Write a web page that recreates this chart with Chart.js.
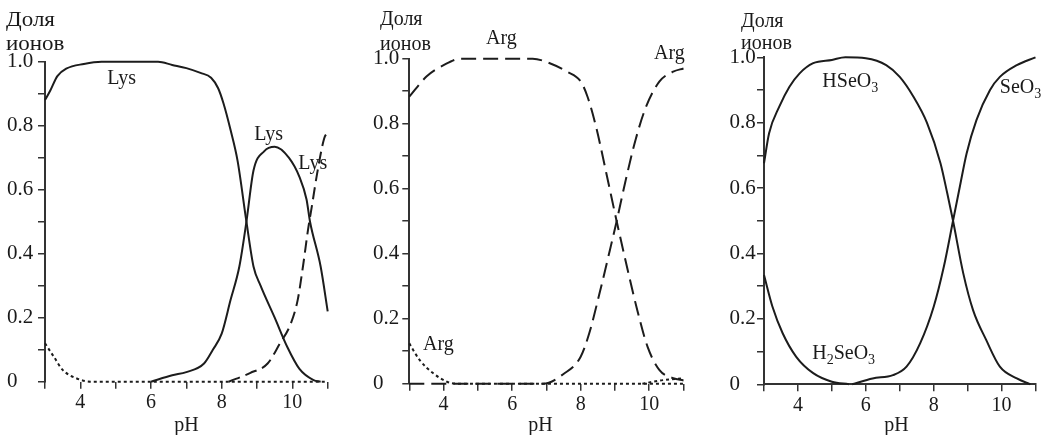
<!DOCTYPE html>
<html><head><meta charset="utf-8">
<script src="https://cdn.jsdelivr.net/npm/chart.js@4/dist/chart.umd.min.js"></script>
<style>
html,body{margin:0;padding:0;background:#fff;width:1043px;height:435px;overflow:hidden}
canvas{position:absolute;top:0}
</style></head><body>
<canvas id="c1" width="345" height="435" style="left:0px"></canvas>
<canvas id="c2" width="350" height="435" style="left:345px"></canvas>
<canvas id="c3" width="348" height="435" style="left:695px"></canvas>
<script>
// ---------- tick labels ----------
const xTickValues = [4, 6, 8, 10];
const xTickLabels = ['4', '6', '8', '10'];
const yTickLabels = ['0', '0.2', '0.4', '0.6', '0.8', '1.0'];
const yTitleLines = ['Доля', 'ионов'];
const xTitle = 'pH';

// ---------- panel 1 : Lys ----------
const lysCationPH   = [3, 3.15, 3.35, 3.6, 4.1, 4.6, 5.5, 6.2, 6.6, 7.0, 7.4, 7.7, 7.9, 8.05, 8.25, 8.45, 8.7, 8.9, 9.1, 9.5, 9.85, 10.2, 10.6, 10.8];
const lysCationFrac = [0.88, 0.91, 0.955, 0.978, 0.993, 1.0, 1.0, 1.0, 0.99, 0.98, 0.965, 0.95, 0.917, 0.87, 0.787, 0.69, 0.5, 0.36, 0.30, 0.2, 0.11, 0.04, 0.005, 0];
const lysZwitterPH   = [6.0, 6.6, 7.0, 7.5, 7.75, 8.0, 8.25, 8.5, 8.7, 8.9, 9.2, 9.5, 9.9, 10.2, 10.4, 10.5, 10.8, 11];
const lysZwitterFrac = [0, 0.02, 0.03, 0.057, 0.1, 0.15, 0.255, 0.36, 0.5, 0.66, 0.72, 0.734, 0.70, 0.64, 0.57, 0.5, 0.36, 0.22];
const lysAnionPH   = [8.2, 8.8, 9.3, 9.65, 9.95, 10.15, 10.3, 10.45, 10.55, 10.7, 10.9, 11];
const lysAnionFrac = [0, 0.027, 0.057, 0.12, 0.18, 0.255, 0.36, 0.48, 0.547, 0.65, 0.76, 0.78];
const lysDicationPH   = [3, 3.25, 3.5, 3.9, 4.3, 6, 8, 11];
const lysDicationFrac = [0.12, 0.078, 0.037, 0.01, 0, 0, 0, 0];

// ---------- panel 2 : Arg ----------
const argCationPH   = [3, 3.5, 4.0, 4.5, 6.6, 7.1, 7.6, 8.0, 8.2, 8.45, 8.75, 9.05, 9.35, 9.65, 9.95, 10.3, 10.7, 11];
const argCationFrac = [0.883, 0.945, 0.98, 1.0, 1.0, 0.986, 0.96, 0.93, 0.883, 0.79, 0.647, 0.5, 0.36, 0.227, 0.114, 0.042, 0.017, 0.01];
const argZwitterPH   = [3, 6.9, 7.5, 8.0, 8.25, 8.55, 8.85, 9.05, 9.3, 9.6, 9.9, 10.3, 10.7, 11];
const argZwitterFrac = [0, 0, 0.03, 0.083, 0.155, 0.278, 0.41, 0.5, 0.62, 0.75, 0.85, 0.93, 0.96, 0.97];
const argDicationPH   = [3, 3.3, 3.7, 4.1, 4.4, 7, 9, 11];
const argDicationFrac = [0.124, 0.073, 0.032, 0.006, 0, 0, 0, 0];
const argAnionPH   = [9.8, 10.4, 11];
const argAnionFrac = [0, 0.011, 0.017];

// ---------- panel 3 : selenite ----------
const hseo3PH   = [3, 3.15, 3.45, 3.75, 4.05, 4.45, 5.0, 5.4, 6.0, 6.6, 7.0, 7.4, 7.8, 8.2, 8.4, 8.57, 8.87, 9.16, 9.55, 9.95, 10.45, 10.85];
const hseo3Frac = [0.676, 0.768, 0.849, 0.91, 0.951, 0.982, 0.992, 1.0, 0.997, 0.976, 0.94, 0.88, 0.8, 0.676, 0.584, 0.5, 0.34, 0.227, 0.135, 0.054, 0.018, 0];
const h2seo3PH   = [3, 3.25, 3.55, 3.95, 4.45, 5.0, 5.5];
const h2seo3Frac = [0.334, 0.237, 0.156, 0.084, 0.034, 0.008, 0];
const seo3PH   = [5.6, 6.2, 6.8, 7.2, 7.6, 8.0, 8.3, 8.57, 8.77, 8.97, 9.26, 9.66, 9.95, 10.45, 11];
const seo3Frac = [0, 0.018, 0.028, 0.054, 0.125, 0.237, 0.36, 0.5, 0.604, 0.706, 0.808, 0.9, 0.94, 0.976, 1.0];

// ---------- helpers ----------
const FONT = "'Liberation Serif', 'Times New Roman', serif";
Chart.defaults.font.family = FONT;
const INK = '#1c1c1c';
const AXIS = '#333';
const pts = (xs, ys) => xs.map((x, i) => ({x: x, y: ys[i]}));
const solid = [];
function ds(xs, ys, dash) {
  return {data: pts(xs, ys), borderColor: INK, borderWidth: 2, borderDash: dash,
    pointRadius: 0, fill: false, cubicInterpolationMode: 'monotone', clip: false,
    borderCapStyle: 'butt'};
}

const textPlugin = {
  id: 'panelText',
  afterDraw(chart, args, o) {
    const ctx = chart.ctx, xs = chart.scales.x, ys = chart.scales.y;
    ctx.save();
    ctx.fillStyle = '#1a1a1a';
    // y title
    ctx.font = '20px ' + FONT;
    ctx.textBaseline = 'alphabetic';
    ctx.textAlign = 'left';
    yTitleLines.forEach((t, i) => {
      ctx.save();
      ctx.translate(o.titleLeft, o.titleBase[i]);
      ctx.scale(o.titleScaleX, 1);
      ctx.fillText(t, 0, 0);
      ctx.restore();
    });
    // x title
    ctx.textAlign = 'center';
    ctx.fillText(xTitle, xs.getPixelForValue(o.xTitleAt), 431);
    // species labels
    ctx.textAlign = 'left';
    ctx.textBaseline = 'middle';
    o.labels.forEach(l => {
      let x = xs.getPixelForValue(l.pH);
      const y = ys.getPixelForValue(l.v);
      l.parts.forEach(p => {
        const sub = typeof p !== 'string';
        const t = sub ? p.sub : p;
        ctx.font = (sub ? '14px ' : '20px ') + FONT;
        ctx.fillText(t, x, sub ? y + 6 : y);
        x += ctx.measureText(t).width;
      });
    });
    ctx.restore();
  }
};

function makeChart(id, datasets, g) {
  const yLabel = v => { const k = Math.round(v * 10); return k % 2 ? '' : yTickLabels[k / 2]; };
  const xLabel = v => { const i = xTickValues.indexOf(v); return i >= 0 ? xTickLabels[i] : ''; };
  return new Chart(document.getElementById(id), {
    type: 'line',
    data: {datasets: datasets},
    plugins: [textPlugin],
    options: {
      responsive: false, animation: false, devicePixelRatio: 1,
      layout: {padding: {left: g.padL, top: g.padT, right: g.padR, bottom: 0}},
      plugins: {legend: {display: false}, tooltip: {enabled: false},
        panelText: g.text},
      scales: {
        x: {type: 'linear', min: 3, max: 11,
          afterFit: s => { s.height = g.xH; },
          border: {display: g.xBorder, color: AXIS, width: 2},
          grid: {drawOnChartArea: false, drawTicks: true, tickLength: 7, color: AXIS, lineWidth: 1.5},
          ticks: {stepSize: 1, autoSkip: false, maxRotation: 0, padding: 2, color: '#1a1a1a',
            font: {size: 20}, callback: xLabel}},
        y: {type: 'linear', min: 0, max: 1,
          afterFit: s => { s.width = g.yW; },
          border: {display: true, color: AXIS, width: 2},
          grid: {drawOnChartArea: false, drawTicks: true, tickLength: 7, color: AXIS, lineWidth: 1.5},
          ticks: {stepSize: 0.1, autoSkip: false, crossAlign: 'far', padding: 3, color: '#1a1a1a',
            font: {size: 21}, callback: yLabel}}
      }
    }
  });
}

const DASH1 = [12, 6], DASH2 = [15, 7], DOT = [3, 3];

makeChart('c1', [
  ds(lysCationPH, lysCationFrac, solid),
  ds(lysZwitterPH, lysZwitterFrac, solid),
  ds(lysAnionPH, lysAnionFrac, DASH1),
  ds(lysDicationPH, lysDicationFrac, DOT)
], {padL: 7, padT: 61.7, padR: 17.3, yW: 38, xH: 53.3, xBorder: false,
  text: {titleLeft: 6, titleBase: [26, 49.5], titleScaleX: 1.15, xTitleAt: 7,
    labels: [
      {pH: 4.76, v: 0.946, parts: ['Lys']},
      {pH: 8.92, v: 0.771, parts: ['Lys']},
      {pH: 10.17, v: 0.68, parts: ['Lys']}
    ]}});

makeChart('c2', [
  ds(argCationPH, argCationFrac, DASH2),
  ds(argZwitterPH, argZwitterFrac, DASH2),
  ds(argDicationPH, argDicationFrac, DOT),
  ds(argAnionPH, argAnionFrac, DOT)
], {padL: 28, padT: 58.7, padR: 11.5, yW: 36.3, xH: 51.3, xBorder: false,
  text: {titleLeft: 35, titleBase: [25, 50], titleScaleX: 1, xTitleAt: 6.83,
    labels: [
      {pH: 5.24, v: 1.06, parts: ['Arg']},
      {pH: 10.14, v: 1.014, parts: ['Arg']},
      {pH: 3.40, v: 0.119, parts: ['Arg']}
    ]}});

makeChart('c3', [
  ds(hseo3PH, hseo3Frac, solid),
  ds(h2seo3PH, h2seo3Frac, solid),
  ds(seo3PH, seo3Frac, solid)
], {padL: 34.5, padT: 57.3, padR: 7.5, yW: 34.5, xH: 50.7, xBorder: true,
  text: {titleLeft: 46, titleBase: [26.5, 49], titleScaleX: 1, xTitleAt: 6.9,
    labels: [
      {pH: 4.72, v: 0.924, parts: ['HSeO', {sub: '3'}]},
      {pH: 9.95, v: 0.906, parts: ['SeO', {sub: '3'}]},
      {pH: 4.42, v: 0.093, parts: ['H', {sub: '2'}, 'SeO', {sub: '3'}]}
    ]}});
</script>
</body></html>
